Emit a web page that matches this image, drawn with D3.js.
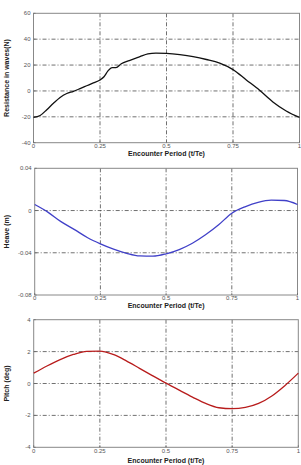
<!DOCTYPE html>
<html>
<head>
<meta charset="utf-8">
<script src="https://cdn.jsdelivr.net/npm/d3@7"></script>
<style>
  body { margin: 0; background: #fff; }
  svg { display: block; font-family: "Liberation Sans", Arial, sans-serif; }
  .tick-label { font-size: 6px; fill: #555; }
  .axis-label { font-size: 7px; font-weight: bold; fill: #222; }
</style>
</head>
<body>
<svg id="chart" width="301" height="465"></svg>
<script>
// values
const xTicks = [0, 0.25, 0.5, 0.75, 1];
const xTickLabels = ["0", "0.25", "0.5", "0.75", "1"];

const resT = [0, 0.025, 0.05, 0.075, 0.1, 0.125, 0.15, 0.175, 0.2, 0.225, 0.25, 0.265, 0.28, 0.295, 0.31, 0.33, 0.36, 0.4, 0.43, 0.46, 0.5, 0.55, 0.6, 0.65, 0.7, 0.75, 0.8, 0.85, 0.9, 0.95, 1];
const resistance = [-20.5, -19, -14.5, -9.5, -5, -2, -0.3, 1.8, 4, 6.2, 8.5, 11, 15.5, 18, 18, 21, 23.5, 26.5, 28.7, 29.3, 29, 28, 26.5, 24.3, 21.5, 16.5, 8.5, 0.5, -8.5, -15.5, -20.5];
const resTicks = [-40, -20, 0, 20, 40, 60];

const motionT = [0, 0.05, 0.1, 0.15, 0.2, 0.25, 0.3, 0.35, 0.4, 0.45, 0.5, 0.55, 0.6, 0.65, 0.7, 0.75, 0.8, 0.85, 0.9, 0.95, 1];
const heave = [0.0057, -0.0015, -0.0105, -0.0178, -0.0255, -0.0315, -0.0365, -0.0405, -0.043, -0.0432, -0.041, -0.037, -0.031, -0.023, -0.0135, -0.0025, 0.0035, 0.0078, 0.0098, 0.0095, 0.0057];
const heaveTicks = [-0.08, -0.04, 0, 0.04];
const heaveTickLabels = ["-0.08", "-0.04", "0", "0.04"];

const pitch = [0.65, 1.1, 1.5, 1.82, 2.02, 2.03, 1.82, 1.42, 0.95, 0.48, 0.02, -0.42, -0.85, -1.25, -1.52, -1.58, -1.5, -1.25, -0.78, -0.12, 0.65];
const pitchTicks = [-4, -2, 0, 2, 4];

const panels = [
  { t: resT, v: resistance, yTicks: resTicks, yLabels: resTicks.map(String), color: "#111",
    label: "Resistance in waves(N)", box: [33.5, 299.5, 13.3, 142.7], xLabelY: 156 },
  { t: motionT, v: heave, yTicks: heaveTicks, yLabels: heaveTickLabels, color: "#4040c8",
    label: "Heave (m)", box: [34.7, 297.5, 168.3, 295], xLabelY: 307.5 },
  { t: motionT, v: pitch, yTicks: pitchTicks, yLabels: pitchTicks.map(String), color: "#b81c1c",
    label: "Pitch (deg)", box: [33.7, 298.3, 319.7, 447.3], xLabelY: 462.5 }
];

const svg = d3.select("#chart");

panels.forEach(p => {
  const [x0, x1, y0, y1] = p.box;
  const x = d3.scaleLinear().domain([0, 1]).range([x0, x1]);
  const y = d3.scaleLinear().domain(d3.extent(p.yTicks)).range([y1, y0]);
  const g = svg.append("g");

  // dash-dot grid
  g.selectAll(".vg").data(xTicks.slice(1, -1)).enter().append("line")
    .attr("x1", d => x(d)).attr("x2", d => x(d)).attr("y1", y0).attr("y2", y1)
    .attr("stroke", "#333").attr("stroke-width", 0.7).attr("stroke-dasharray", "4,2,1,2");
  g.selectAll(".hg").data(p.yTicks.slice(1, -1)).enter().append("line")
    .attr("x1", x0).attr("x2", x1).attr("y1", d => y(d)).attr("y2", d => y(d))
    .attr("stroke", "#333").attr("stroke-width", 0.7).attr("stroke-dasharray", "4,2,1,2");

  // frame
  g.append("rect").attr("x", x0).attr("y", y0).attr("width", x1 - x0).attr("height", y1 - y0)
    .attr("fill", "none").attr("stroke", "#888").attr("stroke-width", 1);

  // small inward ticks
  g.selectAll(".yt").data(p.yTicks).enter().append("line")
    .attr("x1", x0).attr("x2", x0 + 2).attr("y1", d => y(d)).attr("y2", d => y(d))
    .attr("stroke", "#666").attr("stroke-width", 0.7);
  g.selectAll(".xt").data(xTicks).enter().append("line")
    .attr("x1", d => x(d)).attr("x2", d => x(d)).attr("y1", y1).attr("y2", y1 - 2)
    .attr("stroke", "#666").attr("stroke-width", 0.7);

  // tick labels
  g.selectAll(".yl").data(p.yTicks).enter().append("text").attr("class", "tick-label")
    .attr("x", x0 - 3).attr("y", d => y(d) + 2).attr("text-anchor", "end")
    .text((d, i) => p.yLabels[i]);
  g.selectAll(".xl").data(xTicks).enter().append("text").attr("class", "tick-label")
    .attr("x", d => x(d)).attr("y", y1 + 5.3).attr("text-anchor", "middle")
    .text((d, i) => xTickLabels[i]);

  // axis titles
  g.append("text").attr("class", "axis-label").attr("x", (x0 + x1) / 2).attr("y", p.xLabelY)
    .attr("text-anchor", "middle").text("Encounter Period (t/Te)");
  g.append("text").attr("class", "axis-label").attr("transform", "rotate(-90)")
    .attr("x", -(y0 + y1) / 2).attr("y", 9).attr("text-anchor", "middle").text(p.label);

  // series
  const line = d3.line().x((d, i) => x(p.t[i])).y(d => y(d)).curve(d3.curveMonotoneX);
  g.append("path").datum(p.v).attr("fill", "none").attr("stroke", p.color)
    .attr("stroke-width", 1.3).attr("d", line);
});
</script>
</body>
</html>
